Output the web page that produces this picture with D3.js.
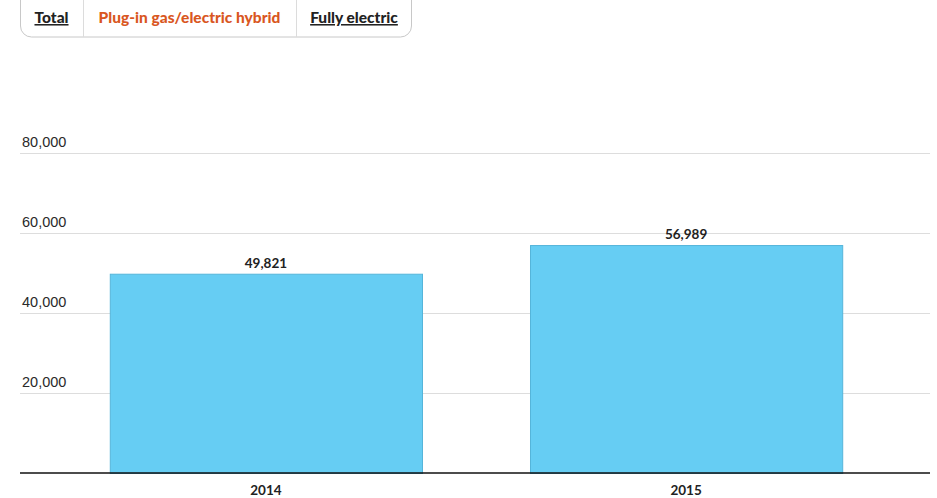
<!DOCTYPE html>
<html>
<head>
<meta charset="utf-8">
<script src="https://cdn.jsdelivr.net/npm/d3@7"></script>
<style>
  html, body { margin: 0; padding: 0; background: #fff; }
  svg { display: block; }
</style>
</head>
<body>
<svg id="chart" width="937" height="498"></svg>
<script>
// Sales of plug-in gas/electric hybrids by year
const years = ["2014", "2015"];
const sales = [49821, 56989];
const tickValues = [20000, 40000, 60000, 80000];
const tabs = ["Total", "Plug-in gas/electric hybrid", "Fully electric"];
const activeTab = "Plug-in gas/electric hybrid";

const svg = d3.select("#chart");
const left = 20, right = 930;

const y = d3.scaleLinear().domain([0, 80000]).range([473, 153]);
const x = d3.scaleBand().domain(years).range([56, 896])
  .paddingInner(0.257).paddingOuter(0.128);

// Tab strip
const tabG = svg.append("g");
const tabEdges = [20, 83, 296, 412];
tabG.append("rect")
  .attr("x", 20.5).attr("y", -12).attr("width", 391).attr("height", 49)
  .attr("rx", 11).attr("fill", "#fff").attr("stroke", "#c8c8c8").attr("stroke-width", 1);
[83, 296].forEach(xx => tabG.append("line")
  .attr("x1", xx + 0.5).attr("x2", xx + 0.5).attr("y1", 0).attr("y2", 37)
  .attr("stroke", "#dcdcdc"));
tabs.forEach((t, i) => {
  const cx = (tabEdges[i] + tabEdges[i + 1]) / 2;
  const active = t === activeTab;
  tabG.append("text")
    .attr("x", cx).attr("y", 23)
    .attr("text-anchor", "middle")
    .attr("font-family", "Lato, 'Open Sans', sans-serif")
    .attr("font-weight", "900").attr("font-size", 15.5)
    .attr("fill", active ? "#d9571f" : "#222")
    .attr("text-decoration", active ? "none" : "underline")
    .text(t);
});

// Gridlines and tick labels
const grid = svg.append("g");
grid.selectAll("line").data(tickValues).join("line")
  .attr("x1", left).attr("x2", right)
  .attr("y1", d => Math.round(y(d)) + 0.5).attr("y2", d => Math.round(y(d)) + 0.5)
  .attr("stroke", "#dddddd");
grid.selectAll("text").data(tickValues).join("text")
  .attr("x", 22).attr("y", d => y(d) - 6)
  .attr("font-family", "'Liberation Sans', Arial, sans-serif")
  .attr("font-size", 14.5).attr("fill", "#2a2a2a")
  .text(d => d3.format(",")(d));

// Bars
svg.append("g").selectAll("rect").data(years).join("rect")
  .attr("x", d => x(d) + 0.5)
  .attr("y", (d, i) => y(sales[i]) + 0.5)
  .attr("width", x.bandwidth())
  .attr("height", (d, i) => y(0) - y(sales[i]))
  .attr("fill", "#66cdf3").attr("stroke", "#55b5da").attr("stroke-width", 1);

// Value labels
svg.append("g").selectAll("text").data(years).join("text")
  .attr("x", d => x(d) + x.bandwidth() / 2)
  .attr("y", (d, i) => y(sales[i]) - 6)
  .attr("text-anchor", "middle")
  .attr("font-family", "Lato, 'Open Sans', sans-serif")
  .attr("font-weight", "bold").attr("font-size", 13.5).attr("fill", "#222")
  .text((d, i) => d3.format(",")(sales[i]));

// Baseline
svg.append("line")
  .attr("x1", left).attr("x2", right)
  .attr("y1", y(0)).attr("y2", y(0))
  .attr("stroke", "#111").attr("stroke-width", 1.3);

// Category labels
svg.append("g").selectAll("text").data(years).join("text")
  .attr("x", d => x(d) + x.bandwidth() / 2)
  .attr("y", 495)
  .attr("text-anchor", "middle")
  .attr("font-family", "Lato, 'Open Sans', sans-serif")
  .attr("font-weight", "bold").attr("font-size", 13.5).attr("fill", "#222")
  .text(d => d);
</script>
</body>
</html>
